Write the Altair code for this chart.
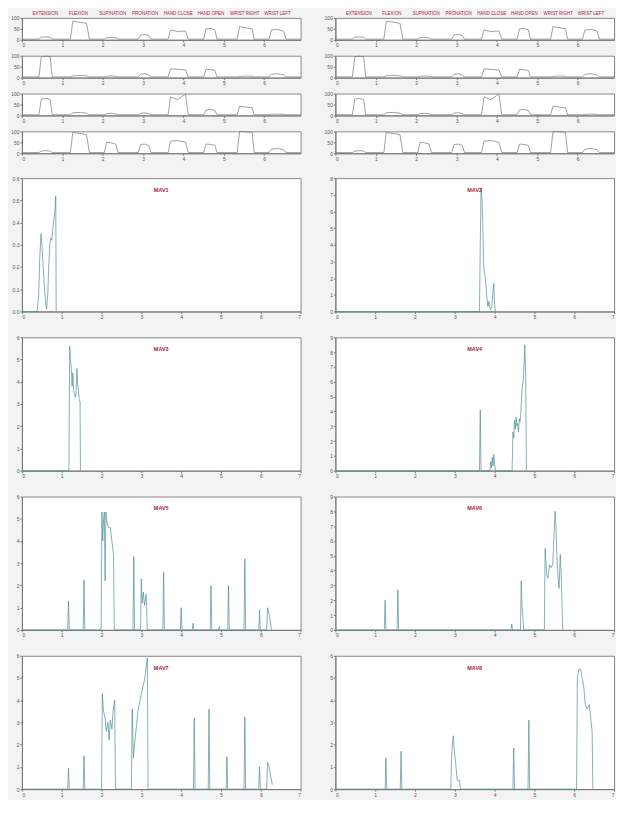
import altair as alt
import pandas as pd

# ---------------- data ----------------
GESTURES = ["EXTENSION", "FLEXION", "SUPINATION", "PRONATION",
            "HAND CLOSE", "HAND OPEN", "WRIST RIGHT", "WRIST LEFT"]
GESTURE_X = [0.58, 1.4, 2.25, 3.05, 3.87, 4.68, 5.52, 6.33]

STRIP_X = [0,
           0.42, 0.48, 0.6, 0.7, 0.75,
           1.2, 1.26, 1.45, 1.6, 1.67,
           2.04, 2.1, 2.2, 2.32, 2.38,
           2.88, 2.94, 3.05, 3.14, 3.2,
           3.62, 3.68, 3.85, 4.05, 4.12,
           4.5, 4.56, 4.68, 4.78, 4.83,
           5.33, 5.39, 5.55, 5.7, 5.75,
           6.12, 6.18, 6.33, 6.48, 6.54,
           6.9]
STRIP1 = [3, 3, 12, 13, 12, 3, 3, 85, 80, 75, 3, 3, 10, 11, 9, 3, 3, 22, 24, 20, 3,
          3, 45, 38, 40, 3, 3, 50, 52, 45, 3, 3, 60, 55, 50, 3, 3, 45, 48, 40, 3, 3]
STRIP2 = [3, 3, 95, 98, 95, 3, 3, 8, 10, 8, 3, 3, 6, 8, 6, 3, 3, 15, 18, 12, 3,
          3, 40, 38, 35, 3, 3, 38, 36, 32, 3, 3, 6, 7, 6, 3, 3, 15, 18, 12, 3, 3]
STRIP3 = [3, 3, 75, 78, 72, 3, 3, 12, 14, 10, 3, 3, 8, 10, 7, 3, 3, 10, 12, 8, 3,
          3, 85, 72, 98, 3, 3, 25, 28, 22, 3, 3, 42, 38, 35, 3, 3, 5, 6, 5, 3, 3]
STRIP4 = [3, 3, 10, 12, 10, 3, 3, 95, 90, 85, 3, 3, 50, 48, 42, 3, 3, 40, 42, 35, 3,
          3, 55, 58, 50, 3, 3, 42, 40, 36, 3, 3, 100, 98, 96, 3, 3, 18, 22, 16, 3, 3]
STRIPS = [STRIP1, STRIP2, STRIP3, STRIP4]

TITLES = ["MAV1", "MAV2", "MAV3", "MAV4", "MAV5", "MAV6", "MAV7", "MAV8"]
YMAX = [0.6, 8, 6, 9, 6, 9, 6, 6]
YSTEP = [0.1, 1, 1, 1, 1, 1, 1, 1]

P1_X = [0, 0.38, 0.42, 0.45, 0.48, 0.50, 0.53, 0.56, 0.60, 0.62, 0.65, 0.67, 0.70,
        0.72, 0.75, 0.78, 0.80, 0.83, 0.85, 0.86]
P1_Y = [0, 0, 0.07, 0.25, 0.35, 0.30, 0.22, 0.12, 0.03, 0.01, 0.08, 0.19, 0.30,
        0.33, 0.32, 0.38, 0.41, 0.45, 0.52, 0.0]

P2_X = [0, 3.62, 3.64, 3.66, 3.68, 3.70, 3.72, 3.74, 3.77, 3.80, 3.83, 3.86, 3.88,
        3.90, 3.93, 3.96, 3.98, 4.00, 4.02]
P2_Y = [0, 0, 4.0, 7.4, 6.8, 5.5, 3.2, 2.3, 2.1, 1.0, 0.3, 0.6, 0.2, 0.1, 0.3, 1.2,
        1.7, 0.4, 0]

P3_X = [0, 1.18, 1.20, 1.22, 1.24, 1.26, 1.28, 1.30, 1.32, 1.34, 1.36, 1.38, 1.40,
        1.42, 1.44, 1.46, 1.47]
P3_Y = [0, 0, 5.6, 5.0, 4.6, 3.8, 4.4, 3.6, 3.4, 3.3, 3.5, 4.6, 3.9, 3.6, 3.2, 3.1, 0]

P4_X = [0, 3.62, 3.64, 3.66, 3.88, 3.90, 3.92, 3.94, 3.96, 3.98, 4.00, 4.02, 4.44,
        4.46, 4.48, 4.50, 4.52, 4.54, 4.56, 4.58, 4.60, 4.62, 4.64, 4.66, 4.68, 4.70,
        4.72, 4.74, 4.76, 4.78, 4.80]
P4_Y = [0, 0, 4.1, 0, 0, 0.6, 0.2, 0.9, 0.3, 1.1, 0.5, 0, 0, 2.6, 2.2, 3.4, 2.8, 3.6,
        3.0, 3.2, 2.6, 3.5, 3.3, 4.0, 5.0, 5.8, 6.1, 7.2, 8.5, 6.5, 0]

P5_X = [0, 1.15, 1.17, 1.19, 1.54, 1.56, 1.58,
        1.99, 2.01, 2.03, 2.05, 2.07, 2.09, 2.11, 2.14, 2.18, 2.22, 2.26, 2.30, 2.32,
        2.79, 2.81, 2.83, 2.98, 3.00, 3.02, 3.05, 3.08, 3.12, 3.15,
        3.54, 3.56, 3.58, 3.98, 4.00, 4.02, 4.28, 4.30, 4.32, 4.73, 4.75, 4.77,
        4.94, 4.96, 4.98, 5.17, 5.19, 5.21, 5.58, 5.60, 5.62, 5.95, 5.97, 5.99,
        6.15, 6.17, 6.20, 6.24, 6.27]
P5_Y = [0, 0, 1.3, 0, 0, 2.25, 0,
        0, 5.3, 4.0, 4.9, 5.3, 2.2, 5.3, 4.8, 4.6, 4.6, 4.0, 3.4, 0,
        0, 3.3, 0, 0, 2.3, 1.2, 1.7, 1.1, 1.6, 0,
        0, 2.6, 0, 0, 1.0, 0, 0, 0.3, 0, 0, 2.0, 0,
        0, 0.15, 0, 0, 2.0, 0, 0, 3.2, 0, 0, 0.9, 0,
        0, 1.0, 0.8, 0.4, 0]

P6_X = [0, 1.23, 1.25, 1.27, 1.55, 1.57, 1.59, 4.41, 4.43, 4.45, 4.65, 4.67, 4.69,
        4.71, 4.73, 5.25, 5.27, 5.31, 5.34, 5.38, 5.42, 5.46, 5.52, 5.54, 5.58, 5.62,
        5.65, 5.68, 5.71]
P6_Y = [0, 0, 2.0, 0, 0, 2.7, 0, 0, 0.4, 0, 0, 3.3, 1.5, 0.9, 0, 0, 5.5, 3.7, 3.5,
        4.4, 4.2, 4.4, 8.0, 7.0, 4.0, 2.8, 5.1, 3.2, 0]

P7_X = [0, 1.15, 1.17, 1.19, 1.54, 1.56, 1.58, 2.0, 2.02, 2.05, 2.09, 2.12, 2.16,
        2.19, 2.22, 2.26, 2.29, 2.33, 2.35, 2.75, 2.77, 2.80, 2.84, 2.88, 2.92, 2.96,
        3.0, 3.08, 3.15, 3.17, 4.31, 4.33, 4.35, 4.68, 4.70, 4.72, 5.13, 5.15, 5.17,
        5.58, 5.60, 5.62, 5.95, 5.97, 5.99, 6.15, 6.17, 6.21, 6.25, 6.29]
P7_Y = [0, 0, 0.95, 0, 0, 1.5, 0, 0, 4.3, 3.5, 3.2, 2.6, 3.0, 2.2, 3.1, 2.7, 3.5,
        4.0, 0, 0, 3.6, 1.4, 2.2, 2.9, 3.6, 3.9, 4.3, 4.9, 5.9, 0, 0, 3.2, 0, 0, 3.6,
        0, 0, 1.45, 0, 0, 3.25, 0, 0, 1.0, 0, 0, 1.2, 1.0, 0.6, 0.2]

P8_X = [0, 1.25, 1.27, 1.29, 1.63, 1.65, 1.67, 2.90, 2.92, 2.96, 2.98, 3.02, 3.06,
        3.12, 3.14, 4.46, 4.48, 4.50, 4.84, 4.86, 4.88, 6.06, 6.08, 6.12, 6.16, 6.20,
        6.24, 6.28, 6.32, 6.38, 6.42, 6.45, 6.47]
P8_Y = [0, 0, 1.4, 0, 0, 1.7, 0, 0, 1.5, 2.4, 1.9, 1.2, 0.4, 0.4, 0, 0, 1.85, 0, 0,
        3.1, 0, 0, 5.0, 5.4, 5.4, 5.0, 4.6, 3.8, 3.6, 3.8, 3.1, 2.6, 0]

PANEL_X = [P1_X, P2_X, P3_X, P4_X, P5_X, P6_X, P7_X, P8_X]
PANEL_Y = [P1_Y, P2_Y, P3_Y, P4_Y, P5_Y, P6_Y, P7_Y, P8_Y]

# ---------------- styling ----------------
W = 280
STRIP_H = 22
BIG_H = 134
LINE_COL = "#4f8f8f"
TITLE_COL = "#b0203a"


def ax(values, fmt=None):
    kw = dict(values=values, title=None, labelFontSize=5, tickSize=2,
              labelPadding=1, grid=False, labelColor="#555",
              tickColor="#777", domainColor="#777")
    if fmt:
        kw["format"] = fmt
    return alt.Axis(**kw)


def strip_chart(ys, with_labels):
    df = pd.DataFrame({"x": STRIP_X, "y": ys})
    line = alt.Chart(df).mark_line(color="#777", strokeWidth=0.7).encode(
        x=alt.X("x:Q", scale=alt.Scale(domain=[0, 6.9], nice=False, zero=False),
                axis=ax([0, 1, 2, 3, 4, 5, 6])),
        y=alt.Y("y:Q", scale=alt.Scale(domain=[0, 100], nice=False),
                axis=ax([0, 50, 100])),
    )
    layers = [line]
    if with_labels:
        gdf = pd.DataFrame({"x": GESTURE_X, "name": GESTURES})
        layers.append(alt.Chart(gdf).mark_text(
            fontSize=4.5, color=TITLE_COL, baseline="bottom", font="Liberation Sans"
        ).encode(x="x:Q", y=alt.value(-2), text="name:N"))
    return alt.layer(*layers).properties(width=W, height=STRIP_H)


def big_chart(i):
    df = pd.DataFrame({"x": PANEL_X[i], "y": PANEL_Y[i]})
    ymax, step = YMAX[i], YSTEP[i]
    yvals = [round(k * step, 2) for k in range(int(round(ymax / step)) + 1)]
    line = alt.Chart(df).mark_line(color=LINE_COL, strokeWidth=0.7).encode(
        x=alt.X("x:Q", scale=alt.Scale(domain=[0, 7], nice=False),
                axis=ax([0, 1, 2, 3, 4, 5, 6, 7])),
        y=alt.Y("y:Q", scale=alt.Scale(domain=[0, ymax], nice=False),
                axis=ax(yvals)),
    )
    title = alt.Chart(pd.DataFrame({"t": [TITLES[i]]})).mark_text(
        fontSize=5.5, color=TITLE_COL, fontWeight="bold", font="Liberation Sans"
    ).encode(x=alt.value(W / 2), y=alt.value(12), text="t:N")
    return alt.layer(line, title).properties(width=W, height=BIG_H)


def column(col):
    strips = alt.vconcat(*[strip_chart(STRIPS[k], k == 0) for k in range(4)],
                         spacing=4)
    bigs = alt.vconcat(*[big_chart(2 * r + col) for r in range(4)], spacing=14)
    return alt.vconcat(strips, bigs, spacing=13)


chart = alt.hconcat(column(0), column(1), spacing=21).properties(
    padding={"left": 2, "top": 0, "right": 0, "bottom": 0},
    background="#f3f3f3",
).configure_view(stroke="#888", fill="white").configure_concat(spacing=10)

chart.save("out.html", embed_options={"renderer": "svg", "actions": False})
